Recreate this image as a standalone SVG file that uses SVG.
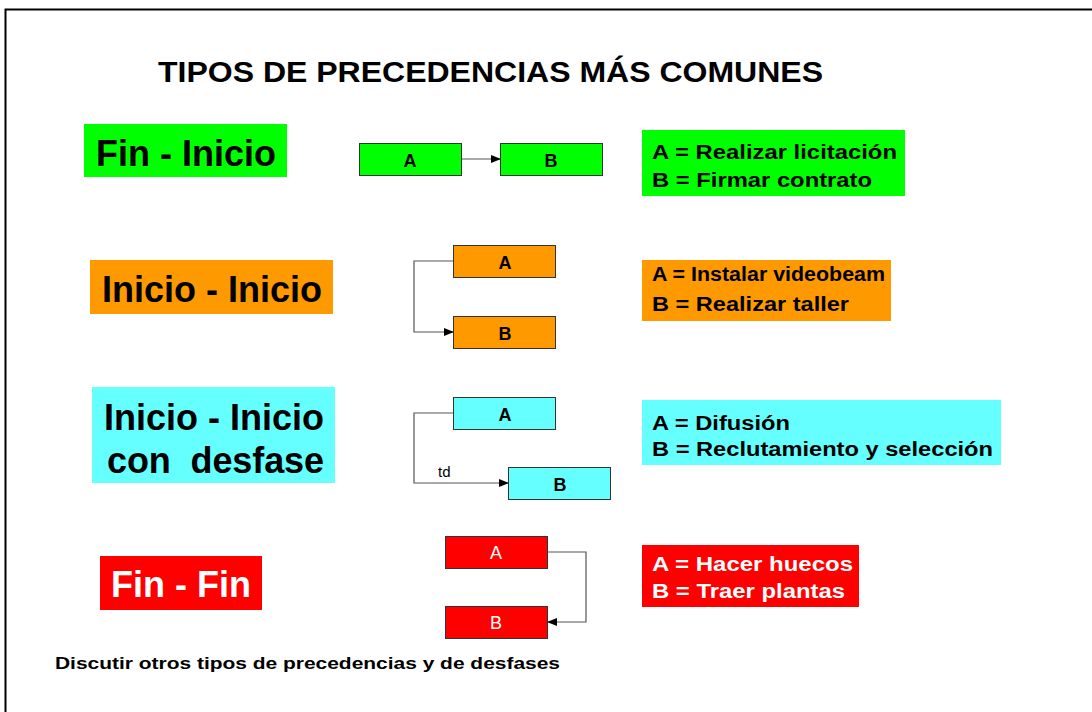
<svg xmlns="http://www.w3.org/2000/svg" width="1092" height="712" viewBox="0 0 1092 712">
<defs>
<marker id="arr" markerWidth="10" markerHeight="8" refX="9" refY="4" orient="auto" markerUnits="userSpaceOnUse">
<path d="M0,0 L10,4 L0,8 Z" fill="#000"/>
</marker>
<style>
text{font-family:"Liberation Sans",Arial,sans-serif;}
.b{font-weight:bold;}
.big{font-size:36px;font-weight:bold;}
.desc{font-size:19.5px;font-weight:bold;}
.sm{font-size:18px;font-weight:bold;text-anchor:middle;}
.wl{font-size:18px;text-anchor:middle;fill:#fff;}
.box{stroke:#333;stroke-width:1;}
.con{fill:none;stroke:#555;stroke-width:1.2;}
.g{fill:#00FF00;}.o{fill:#FF9900;}.c{fill:#66FFFF;}.r{fill:#FF0000;}
</style>
</defs>
<rect x="0" y="0" width="1092" height="712" fill="#fff"/>
<rect x="5.5" y="9.5" width="1100" height="720" fill="none" stroke="#000" stroke-width="2"/>
<text id="title" class="b" x="158" y="82" font-size="29" textLength="665" lengthAdjust="spacingAndGlyphs">TIPOS DE PRECEDENCIAS MÁS COMUNES</text>

<g id="connectors">
<line class="con" x1="461" y1="159" x2="500" y2="159" marker-end="url(#arr)"/>
<polyline class="con" points="453,261 414,261 414,332 453,332" marker-end="url(#arr)"/>
<polyline class="con" points="453,413 414,413 414,483 508,483" marker-end="url(#arr)"/>
<polyline class="con" points="548,552 586,552 586,622 548,622" marker-end="url(#arr)"/>
<text x="438" y="477" font-size="15">td</text>
</g>

<g id="label-fin-inicio"><rect class="g" x="84" y="124" width="203" height="53"/><text class="big" x="186" y="166" text-anchor="middle">Fin - Inicio</text></g>
<g id="fi-a"><rect class="g box" x="359.5" y="143.5" width="102" height="32"/><text class="sm" x="410" y="167">A</text></g>
<g id="fi-b"><rect class="g box" x="500.5" y="143.5" width="102" height="32"/><text class="sm" x="551" y="167">B</text></g>
<g id="desc-fi"><rect class="g" x="642" y="130" width="263" height="66"/><text class="desc" x="652" y="159" textLength="245" lengthAdjust="spacingAndGlyphs">A = Realizar licitación</text><text class="desc" x="652" y="187" textLength="220" lengthAdjust="spacingAndGlyphs">B = Firmar contrato</text></g>

<g id="label-inicio-inicio"><rect class="o" x="90" y="260" width="243" height="54"/><text class="big" x="212" y="302" text-anchor="middle">Inicio - Inicio</text></g>
<g id="ii-a"><rect class="o box" x="453.5" y="245.5" width="102" height="32"/><text class="sm" x="505" y="269">A</text></g>
<g id="ii-b"><rect class="o box" x="453.5" y="316.5" width="102" height="32"/><text class="sm" x="505" y="340">B</text></g>
<g id="desc-ii"><rect class="o" x="642" y="260" width="249" height="61"/><text class="desc" x="652" y="281" textLength="233" lengthAdjust="spacingAndGlyphs">A = Instalar videobeam</text><text class="desc" x="652" y="311" textLength="197" lengthAdjust="spacingAndGlyphs">B = Realizar taller</text></g>

<g id="label-desfase"><rect class="c" x="92" y="387" width="243" height="96"/><text class="big" x="104" y="430" textLength="220" lengthAdjust="spacingAndGlyphs">Inicio - Inicio</text><text class="big" x="107" y="473" textLength="217" xml:space="preserve">con  desfase</text></g>
<g id="id-a"><rect class="c box" x="453.5" y="397.5" width="102" height="32"/><text class="sm" x="505" y="421">A</text></g>
<g id="id-b"><rect class="c box" x="508.5" y="467.5" width="102" height="32"/><text class="sm" x="560" y="491">B</text></g>
<g id="desc-id"><rect class="c" x="642" y="400" width="359" height="65"/><text class="desc" x="652" y="430" textLength="138" lengthAdjust="spacingAndGlyphs">A = Difusión</text><text class="desc" x="652" y="456" textLength="341" lengthAdjust="spacingAndGlyphs">B = Reclutamiento y selección</text></g>

<g id="label-fin-fin"><rect class="r" x="100" y="556" width="162" height="54"/><text class="big" x="181" y="597" text-anchor="middle" fill="#fff">Fin - Fin</text></g>
<g id="ff-a"><rect class="r box" x="445.5" y="536.5" width="102" height="32"/><text class="wl" x="496" y="559">A</text></g>
<g id="ff-b"><rect class="r box" x="445.5" y="606.5" width="102" height="32"/><text class="wl" x="496" y="629">B</text></g>
<g id="desc-ff"><rect class="r" x="642" y="545" width="217" height="62"/><text class="desc" x="652" y="571" fill="#fff" textLength="201" lengthAdjust="spacingAndGlyphs">A = Hacer huecos</text><text class="desc" x="652" y="598" fill="#fff" textLength="193" lengthAdjust="spacingAndGlyphs">B = Traer plantas</text></g>

<text id="footer" class="b" x="55" y="669" font-size="16" textLength="505" lengthAdjust="spacingAndGlyphs">Discutir otros tipos de precedencias y de desfases</text>
</svg>
